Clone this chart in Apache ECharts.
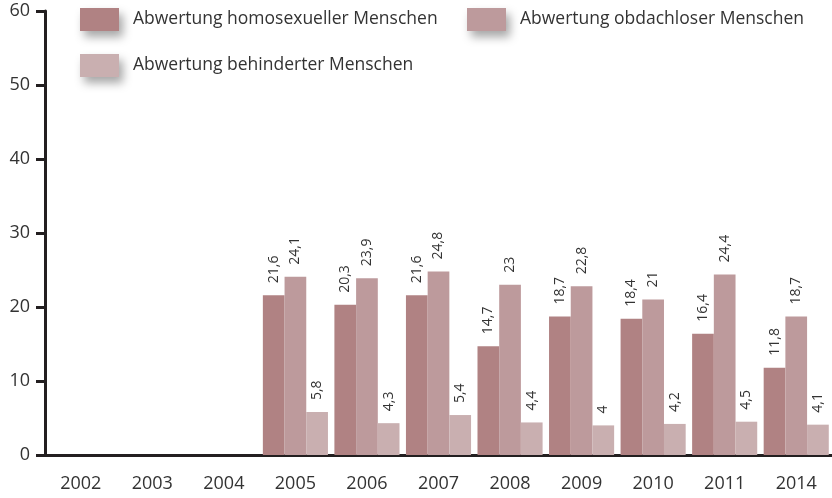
<!DOCTYPE html>
<html lang="de">
<head>
    <meta charset="UTF-8">
    <title>Abwertung</title>
    <script src="https://cdn.jsdelivr.net/npm/echarts@6/dist/echarts.min.js"></script>
    <style>
        html, body { margin: 0; padding: 0; background: #fff; }
    </style>
</head>
<body>
    <div id="main" style="width: 832px;height:498px;"></div>

    <script type="text/javascript">
        // Daten
        var years = ['2002', '2003', '2004', '2005', '2006', '2007', '2008', '2009', '2010', '2011', '2014'];
        var homosexuelle = [null, null, null, 21.6, 20.3, 21.6, 14.7, 18.7, 18.4, 16.4, 11.8];
        var obdachlose = [null, null, null, 24.1, 23.9, 24.8, 23, 22.8, 21, 24.4, 18.7];
        var behinderte = [null, null, null, 5.8, 4.3, 5.4, 4.4, 4, 4.2, 4.5, 4.1];
        var names = ['Abwertung homosexueller Menschen', 'Abwertung obdachloser Menschen', 'Abwertung behinderter Menschen'];
        var colors = ['#b08283', '#bd9a9c', '#c9afb0'];

        var font = 'Open Sans';
        var myChart = echarts.init(document.getElementById('main'));

        function legendAt(name, left, top) {
            return {
                data: [name],
                left: left,
                top: top,
                padding: 0,
                itemWidth: 39,
                itemHeight: 23,
                icon: 'rect',
                itemStyle: {
                    shadowBlur: 10,
                    shadowOffsetX: 4,
                    shadowOffsetY: 6,
                    shadowColor: 'rgba(0,0,0,0.35)'
                },
                textStyle: {
                    fontFamily: font,
                    fontSize: 17.5,
                    color: '#333',
                    padding: [0, 0, 0, 9]
                }
            };
        }

        function barSeries(i, data) {
            return {
                name: names[i],
                type: 'bar',
                data: data,
                barGap: '0%',
                barCategoryGap: '9%',
                itemStyle: { color: colors[i] },
                label: {
                    show: true,
                    position: 'top',
                    rotate: 90,
                    align: 'left',
                    verticalAlign: 'middle',
                    distance: 12,
                    fontFamily: font,
                    fontSize: 14,
                    color: '#333',
                    formatter: function (p) {
                        return String(p.value).replace('.', ',');
                    }
                }
            };
        }

        var option = {
            animation: false,
            legend: [
                legendAt(names[0], 80, 8),
                legendAt(names[1], 467, 8),
                legendAt(names[2], 80, 54)
            ],
            grid: {
                left: 45,
                right: 0,
                top: 11,
                bottom: 43,
                containLabel: false
            },
            xAxis: {
                type: 'category',
                data: years,
                axisLine: { lineStyle: { color: '#231f20', width: 3 } },
                axisTick: { show: false },
                axisLabel: {
                    fontFamily: font,
                    fontSize: 18,
                    color: '#333',
                    margin: 20
                }
            },
            yAxis: {
                type: 'value',
                min: 0,
                max: 60,
                interval: 10,
                splitLine: { show: false },
                axisLine: { show: true, lineStyle: { color: '#231f20', width: 3 } },
                axisTick: { show: true, length: 9, lineStyle: { color: '#231f20', width: 3 } },
                axisLabel: {
                    fontFamily: font,
                    fontSize: 18,
                    color: '#333',
                    margin: 15
                }
            },
            series: [
                barSeries(0, homosexuelle),
                barSeries(1, obdachlose),
                barSeries(2, behinderte)
            ]
        };

        myChart.setOption(option);
    </script>
</body>
</html>
